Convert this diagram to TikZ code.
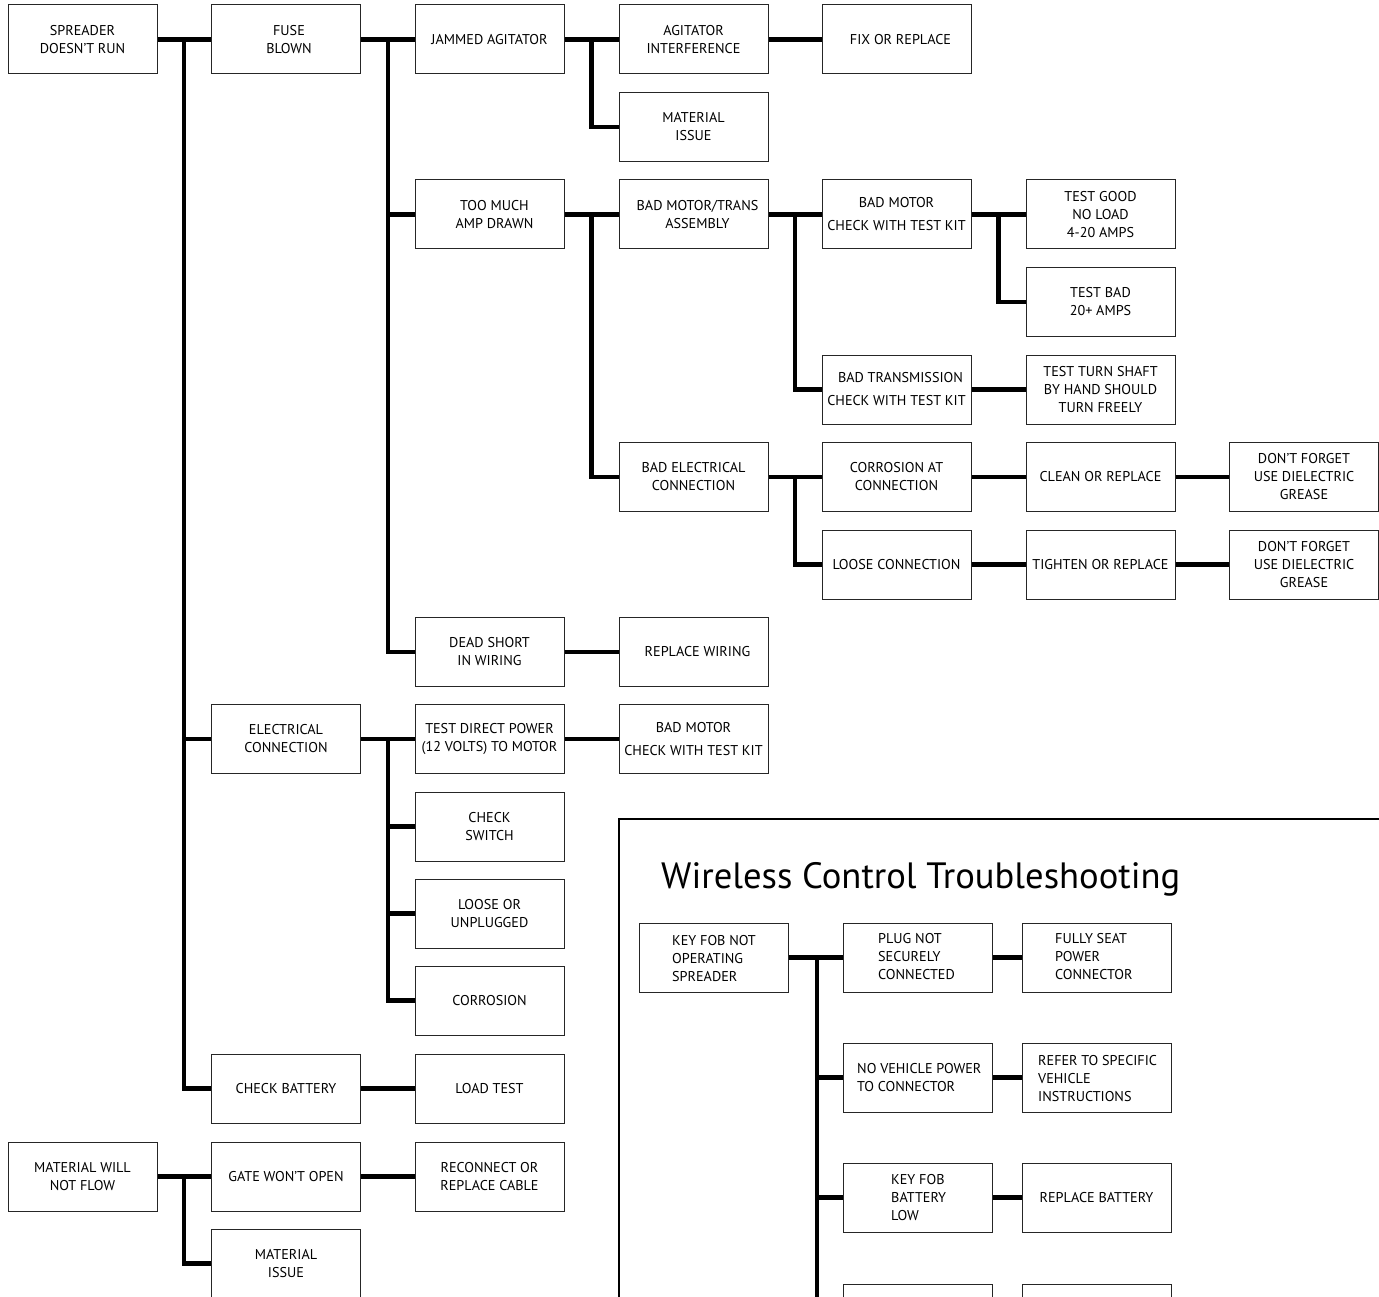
\documentclass[tikz,border=0pt]{standalone}
\usepackage{fontspec}
\setmainfont{PT Sans}
\begin{document}
\begin{tikzpicture}[x=1pt,y=-1pt,
  box/.style={draw=black!85, line width=1pt, minimum width=149pt, minimum height=69pt, inner sep=0pt, align=center, font=\fontsize{14.2}{18}\selectfont},
  wtxt/.style={anchor=west, align=left, inner sep=0pt, font=\fontsize{14.2}{18}\selectfont},
  conn/.style={line width=4.6pt},
  frame/.style={line width=2pt}]
\useasboundingbox (0,0) rectangle (1379,1297);
\clip (0,0) rectangle (1379,1297);
% main tree
\node[box] (spr) at (82.5,39.5) {SPREADER\\DOESN'T RUN};
\node[box] (fuse) at (286,39.5) {\hspace*{6pt}FUSE\\\hspace*{6pt}BLOWN};
\node[box] (jam) at (489.5,39.5) {JAMMED AGITATOR};
\node[box] (agi) at (693.5,39.5) {AGITATOR\\INTERFERENCE};
\node[box] (fix) at (896.5,39.5) {\hspace*{8pt}FIX OR REPLACE};
\node[box] (mat1) at (693.5,127) {MATERIAL\\ISSUE};
\node[box] (amp) at (489.5,214.5) {\hspace*{10pt}TOO MUCH\\\hspace*{10pt}AMP DRAWN};
\node[box] (mt) at (693.5,214.5) {\hspace*{8pt}BAD MOTOR/TRANS\\\hspace*{8pt}ASSEMBLY};
\node[box] (bm) at (896.5,214.5) {BAD MOTOR\\[5pt]CHECK WITH TEST KIT};
\node[box] (tg) at (1100.5,214.5) {TEST GOOD\\NO LOAD\\4-20 AMPS};
\node[box] (tb) at (1100.5,302) {TEST BAD\\20+ AMPS};
\node[box] (bt) at (896.5,389.5) {\hspace*{8pt}BAD TRANSMISSION\\[5pt]CHECK WITH TEST KIT};
\node[box] (ts) at (1100.5,389.5) {TEST TURN SHAFT\\BY HAND SHOULD\\TURN FREELY};
\node[box] (be) at (693.5,477) {BAD ELECTRICAL\\CONNECTION};
\node[box] (ca) at (896.5,477) {CORROSION AT\\CONNECTION};
\node[box] (cr) at (1100.5,477) {CLEAN OR REPLACE};
\node[box] (dg1) at (1304,477) {DON'T FORGET\\USE DIELECTRIC\\GREASE};
\node[box] (lc) at (896.5,564.5) {LOOSE CONNECTION};
\node[box] (tr) at (1100.5,564.5) {TIGHTEN OR REPLACE};
\node[box] (dg2) at (1304,564.5) {DON'T FORGET\\USE DIELECTRIC\\GREASE};
\node[box] (ds) at (489.5,652) {DEAD SHORT\\IN WIRING};
\node[box] (rw) at (693.5,652) {\hspace*{8pt}REPLACE WIRING};
\node[box] (ec) at (286,739) {ELECTRICAL\\CONNECTION};
\node[box] (tdp) at (489.5,739) {TEST DIRECT POWER\\(12 VOLTS) TO MOTOR};
\node[box] (bm2) at (693.5,739) {BAD MOTOR\\[5pt]CHECK WITH TEST KIT};
\node[box] (cs) at (489.5,826.5) {CHECK\\SWITCH};
\node[box] (lu) at (489.5,913.5) {LOOSE OR\\UNPLUGGED};
\node[box] (cor) at (489.5,1000.5) {CORROSION};
\node[box] (cb) at (286,1088.5) {CHECK BATTERY};
\node[box] (lt) at (489.5,1088.5) {LOAD TEST};
\node[box] (mw) at (82.5,1176.5) {MATERIAL WILL\\NOT FLOW};
\node[box] (gw) at (286,1176.5) {GATE WON'T OPEN};
\node[box] (rc) at (489.5,1176.5) {RECONNECT OR\\REPLACE CABLE};
\node[box] (mi2) at (286,1263.5) {MATERIAL\\ISSUE};
% trunks
\coordinate (tA) at (184,39.5);
\coordinate (tB) at (388,39.5);
\coordinate (tC) at (591.5,39.5);
\coordinate (tD) at (591.5,214.5);
\coordinate (tE) at (795,214.5);
\coordinate (tF) at (998.5,214.5);
\coordinate (tG) at (795,477);
\coordinate (tH) at (388,739);
\coordinate (tI) at (184,1176.5);
\draw[conn] (spr.east) -- (fuse.west);
\draw[conn] (tA) |- (ec.west);
\draw[conn] (tA) |- (cb.west);
\draw[conn] (fuse.east) -- (jam.west);
\draw[conn] (tB) |- (amp.west);
\draw[conn] (tB) |- (ds.west);
\draw[conn] (jam.east) -- (agi.west);
\draw[conn] (tC) |- (mat1.west);
\draw[conn] (agi.east) -- (fix.west);
\draw[conn] (amp.east) -- (mt.west);
\draw[conn] (tD) |- (be.west);
\draw[conn] (mt.east) -- (bm.west);
\draw[conn] (tE) |- (bt.west);
\draw[conn] (bm.east) -- (tg.west);
\draw[conn] (tF) |- (tb.west);
\draw[conn] (bt.east) -- (ts.west);
\draw[conn] (be.east) -- (ca.west);
\draw[conn] (tG) |- (lc.west);
\draw[conn] (ca.east) -- (cr.west);
\draw[conn] (cr.east) -- (dg1.west);
\draw[conn] (lc.east) -- (tr.west);
\draw[conn] (tr.east) -- (dg2.west);
\draw[conn] (ds.east) -- (rw.west);
\draw[conn] (ec.east) -- (tdp.west);
\draw[conn] (tH) |- (cs.west);
\draw[conn] (tH) |- (lu.west);
\draw[conn] (tH) |- (cor.west);
\draw[conn] (tdp.east) -- (bm2.west);
\draw[conn] (cb.east) -- (lt.west);
\draw[conn] (mw.east) -- (gw.west);
\draw[conn] (tI) |- (mi2.west);
\draw[conn] (gw.east) -- (rc.west);
% wireless section
\draw[frame] (619,1310) -- (619,819) -- (1390,819);
\node[anchor=base west, inner sep=0pt, font=\fontsize{36.6}{40}\selectfont] (title) at (661,888) {Wireless Control Troubleshooting};
\node[box] (kf) at (713.5,957.5) {};
\node[wtxt] (kft) at (672,958.5) {KEY FOB NOT\\OPERATING\\SPREADER};
\node[box] (pn) at (917.5,957.5) {};
\node[wtxt] (pnt) at (878,956.5) {PLUG NOT\\SECURELY\\CONNECTED};
\node[box] (fs) at (1096.5,957.5) {};
\node[wtxt] (fst) at (1055,956.5) {FULLY SEAT\\POWER\\CONNECTOR};
\node[box] (nv) at (918,1077.5) {};
\node[wtxt] (nvt) at (857,1077.5) {NO VEHICLE POWER\\TO CONNECTOR};
\node[box] (rf) at (1096.5,1077.5) {};
\node[wtxt] (rft) at (1038,1079) {REFER TO SPECIFIC\\VEHICLE\\INSTRUCTIONS};
\node[box] (kb) at (918,1197.5) {};
\node[wtxt] (kbt) at (891,1197.5) {KEY FOB\\BATTERY\\LOW};
\node[box] (rb) at (1096.5,1197.5) {REPLACE BATTERY};
\node[box] (x1) at (918,1318.5) {};
\node[box] (x2) at (1096.5,1318.5) {};
\coordinate (tW) at (817,957.5);
\coordinate (tWe) at (817,1310);
\draw[conn] (kf.east) -- (pn.west);
\draw[conn] (tW) -- (tWe);
\draw[conn] (tW) |- (nv.west);
\draw[conn] (tW) |- (kb.west);
\draw[conn] (pn.east) -- (fs.west);
\draw[conn] (nv.east) -- (rf.west);
\draw[conn] (kb.east) -- (rb.west);
\end{tikzpicture}
\end{document}
